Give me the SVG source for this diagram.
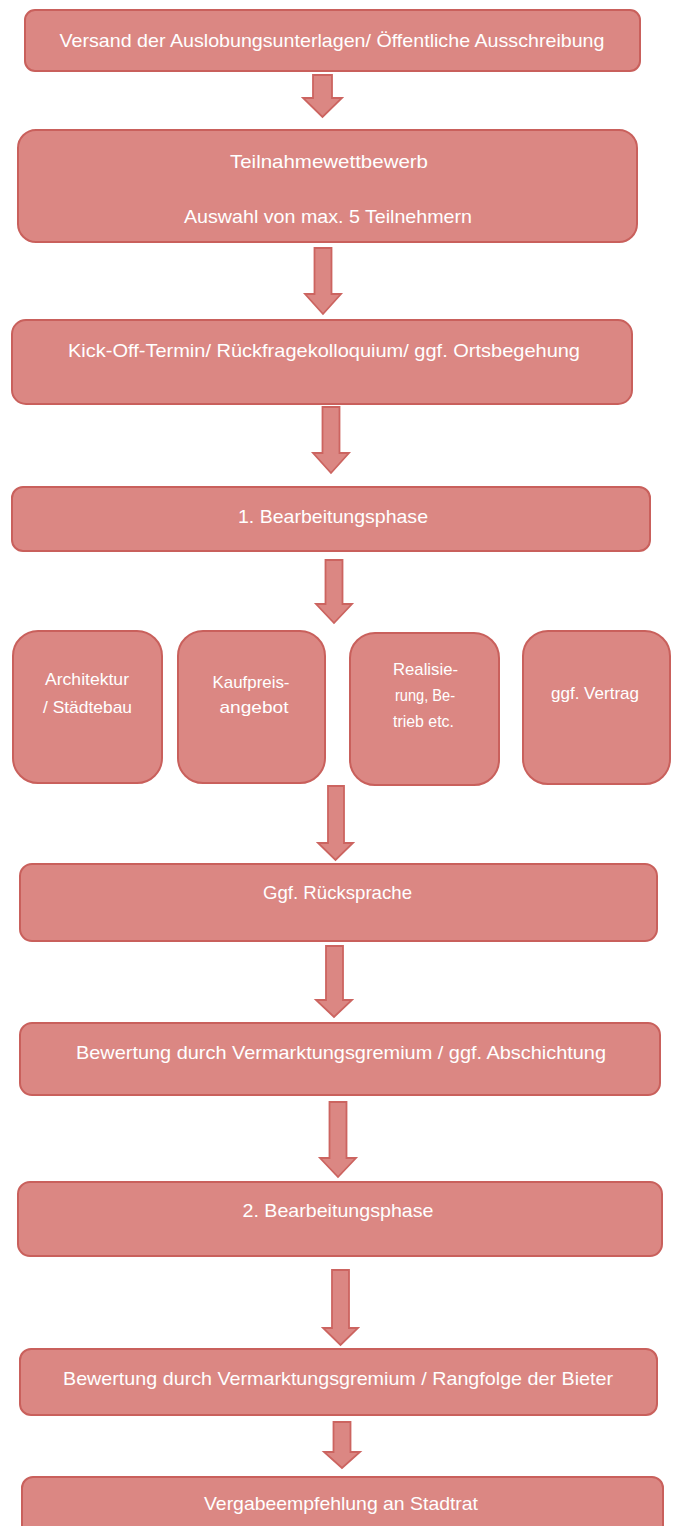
<svg xmlns="http://www.w3.org/2000/svg" width="675" height="1526" viewBox="0 0 675 1526">
<style>
.box{fill:#DB8783;stroke:#C9605C;stroke-width:2}
.arr{fill:#DB8783;stroke:#CC6460;stroke-width:1.8;stroke-linejoin:miter}
text{font-family:"Liberation Sans",Arial,sans-serif;font-size:19px;fill:#FFFFFF;text-anchor:middle}
.s{font-size:17px}
</style>
<rect width="675" height="1526" fill="#FFFFFF"/>
<g id="connectors">
<path class="arr" d="M313,75 H332 V98 H342 L322.5,117 L303,98 H313 Z"/>
<path class="arr" d="M314.5,248 H331.5 V294 H341 L323,314 L305,294 H314.5 Z"/>
<path class="arr" d="M322.5,407 H339.5 V453 H349 L331,473 L313,453 H322.5 Z"/>
<path class="arr" d="M325.5,560 H342.5 V604 H352 L334,623 L316,604 H325.5 Z"/>
<path class="arr" d="M328,786 H344 V843 H353 L335.5,860 L318,843 H328 Z"/>
<path class="arr" d="M326,946 H343 V1000 H352 L334,1017 L316,1000 H326 Z"/>
<path class="arr" d="M329.5,1102 H346.5 V1158 H356 L338,1177 L320,1158 H329.5 Z"/>
<path class="arr" d="M332,1270 H349 V1328 H358 L340.5,1345 L323,1328 H332 Z"/>
<path class="arr" d="M333.5,1422 H350.5 V1452 H360 L342,1468 L324,1452 H333.5 Z"/>
</g>
<g id="n1"><rect class="box" x="25" y="10" width="615" height="61" rx="10"/><text x="332" y="47" textLength="545" lengthAdjust="spacingAndGlyphs">Versand der Auslobungsunterlagen/ Öffentliche Ausschreibung</text></g>
<g id="n2"><rect class="box" x="18" y="130" width="619" height="112" rx="18"/><text x="329" y="168" textLength="198" lengthAdjust="spacingAndGlyphs">Teilnahmewettbewerb</text><text x="328" y="223" textLength="288" lengthAdjust="spacingAndGlyphs">Auswahl von max. 5 Teilnehmern</text></g>
<g id="n3"><rect class="box" x="12" y="320" width="620" height="84" rx="14"/><text x="324" y="357" textLength="512" lengthAdjust="spacingAndGlyphs">Kick-Off-Termin/ Rückfragekolloquium/ ggf. Ortsbegehung</text></g>
<g id="n4"><rect class="box" x="12" y="487" width="638" height="64" rx="11"/><text x="333" y="523" textLength="190" lengthAdjust="spacingAndGlyphs">1. Bearbeitungsphase</text></g>
<g id="n5"><rect class="box" x="13" y="631" width="149" height="152" rx="25"/><text class="s" x="87" y="685" textLength="84" lengthAdjust="spacingAndGlyphs">Architektur</text><text class="s" x="87.5" y="713" textLength="89" lengthAdjust="spacingAndGlyphs">/ Städtebau</text></g>
<g id="n6"><rect class="box" x="178" y="631" width="147" height="152" rx="25"/><text class="s" x="251" y="688" textLength="77" lengthAdjust="spacingAndGlyphs">Kaufpreis-</text><text class="s" x="254" y="713" textLength="69" lengthAdjust="spacingAndGlyphs">angebot</text></g>
<g id="n7"><rect class="box" x="350" y="633" width="149" height="152" rx="25"/><text class="s" x="425.5" y="675" textLength="65" lengthAdjust="spacingAndGlyphs">Realisie-</text><text class="s" x="425" y="701" textLength="60" lengthAdjust="spacingAndGlyphs">rung, Be-</text><text class="s" x="423.5" y="727" textLength="61" lengthAdjust="spacingAndGlyphs">trieb etc.</text></g>
<g id="n8"><rect class="box" x="523" y="631" width="147" height="153" rx="25"/><text class="s" x="595" y="699" textLength="88" lengthAdjust="spacingAndGlyphs">ggf. Vertrag</text></g>
<g id="n9"><rect class="box" x="20" y="864" width="637" height="77" rx="12"/><text x="337.5" y="899" textLength="149" lengthAdjust="spacingAndGlyphs">Ggf. Rücksprache</text></g>
<g id="n10"><rect class="box" x="20" y="1023" width="640" height="72" rx="12"/><text x="341" y="1059" textLength="530" lengthAdjust="spacingAndGlyphs">Bewertung durch Vermarktungsgremium / ggf. Abschichtung</text></g>
<g id="n11"><rect class="box" x="18" y="1182" width="644" height="74" rx="12"/><text x="338" y="1217" textLength="191" lengthAdjust="spacingAndGlyphs">2. Bearbeitungsphase</text></g>
<g id="n12"><rect class="box" x="20" y="1349" width="637" height="66" rx="11"/><text x="338" y="1385" textLength="550" lengthAdjust="spacingAndGlyphs">Bewertung durch Vermarktungsgremium / Rangfolge der Bieter</text></g>
<g id="n13"><rect class="box" x="22" y="1477" width="641" height="70" rx="11"/><text x="341" y="1510" textLength="274" lengthAdjust="spacingAndGlyphs">Vergabeempfehlung an Stadtrat</text></g>
</svg>
